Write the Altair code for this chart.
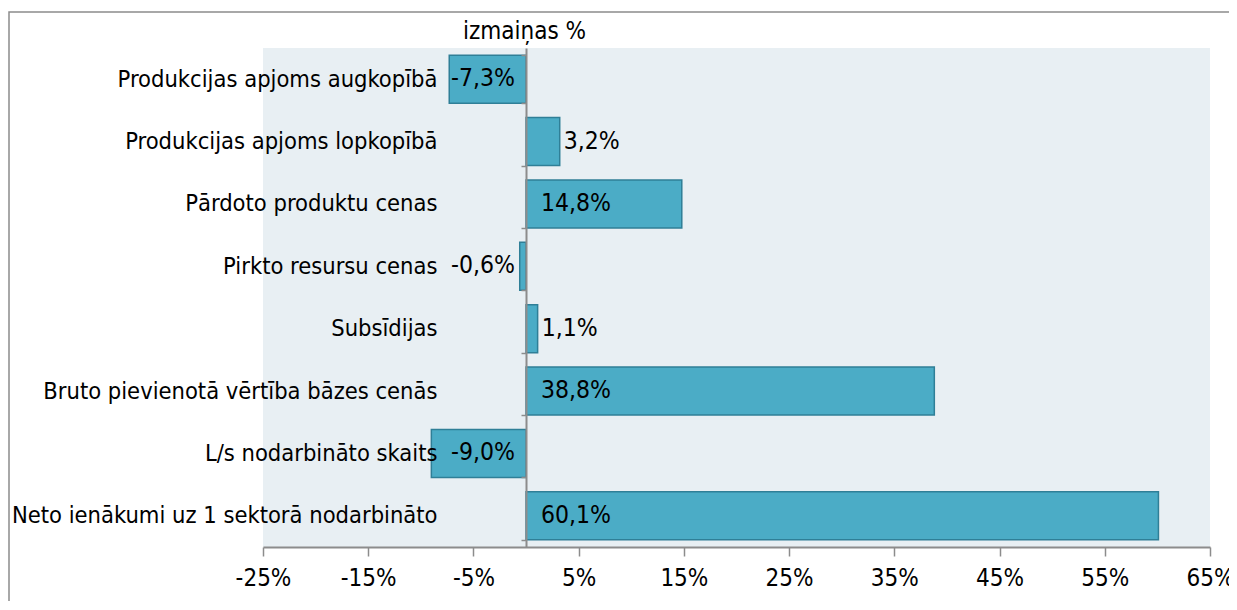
import altair as alt
import pandas as pd

categories = [
    "Produkcijas apjoms augkopībā",
    "Produkcijas apjoms lopkopībā",
    "Pārdoto produktu cenas",
    "Pirkto resursu cenas",
    "Subsīdijas",
    "Bruto pievienotā vērtība bāzes cenās",
    "L/s nodarbināto skaits",
    "Neto ienākumi uz 1 sektorā nodarbināto",
]
values = [-7.3, 3.2, 14.8, -0.6, 1.1, 38.8, -9.0, 60.1]
x_ticks = [-25, -15, -5, 5, 15, 25, 35, 45, 55, 65]
title_text = "izmaiņas %"

labels = [f"{v:.1f}".replace(".", ",") + "%" for v in values]
df = pd.DataFrame({"cat": categories, "v": values, "lab": labels})

FONT = "DejaVu Sans Condensed"
FS_CAT = 23.5
FS_NUM = 24.5
FS_AX = 24
GRAY = "#8c8c8c"

base = alt.Chart(df)

y_enc = alt.Y(
    "cat:N",
    sort=categories,
    scale=alt.Scale(paddingInner=0.23, paddingOuter=0.115),
    axis=alt.Axis(
        title=None,
        orient="left",
        offset=-263,
        tickBand="extent",
        tickSize=5,
        tickColor=GRAY,
        tickWidth=1.5,
        domainColor=GRAY,
        domainWidth=2,
        labelPadding=84,
        labelFont=FONT,
        labelFontSize=FS_CAT,
        labelColor="black",
        labelLimit=0,
        zindex=1,
    ),
)

x_scale = alt.Scale(domain=[-25, 65], nice=False, zero=False)

bars = base.mark_bar(fill="#4bacc6", stroke="#2f7f97", strokeWidth=1.5).encode(
    x=alt.X(
        "v:Q",
        scale=x_scale,
        axis=alt.Axis(
            title=None,
            values=x_ticks,
            labelExpr="datum.value + '%'",
            grid=False,
            domainColor=GRAY,
            domainWidth=2,
            tickColor=GRAY,
            tickWidth=1.5,
            tickSize=9,
            labelPadding=10,
            labelFont=FONT,
            labelFontSize=FS_AX,
            labelColor="black",
            labelFlush=False,
        ),
    ),
    x2=alt.datum(0),
    y=y_enc,
)

txt_neg = base.transform_filter("datum.v < 0").mark_text(
    align="right", baseline="middle", dx=-11, font=FONT, fontSize=FS_NUM, color="black"
).encode(x=alt.datum(0), y=alt.Y("cat:N", sort=categories), text="lab:N")

txt_pos_big = base.transform_filter("datum.v >= 5").mark_text(
    align="left", baseline="middle", dx=15, font=FONT, fontSize=FS_NUM, color="black"
).encode(x=alt.datum(0), y=alt.Y("cat:N", sort=categories), text="lab:N")

txt_pos_small = base.transform_filter("datum.v >= 0 && datum.v < 5").mark_text(
    align="left", baseline="middle", dx=4, font=FONT, fontSize=FS_NUM, color="black"
).encode(x="v:Q", y=alt.Y("cat:N", sort=categories), text="lab:N")

border = alt.Chart(pd.DataFrame({"a": [0]})).mark_rect(
    fillOpacity=0, stroke="#8c8c8c", strokeWidth=1.5
).encode(
    x=alt.value(-254), x2=alt.value(1300), y=alt.value(-36), y2=alt.value(700)
)

chart = alt.layer(border, bars, txt_neg, txt_pos_big, txt_pos_small).properties(
    width=947,
    height=499,
    background="white",
    title=alt.TitleParams(
        title_text, anchor="start", frame="group", dx=200, offset=-52,
        baseline="alphabetic",
        font=FONT, fontSize=24, fontWeight="normal", color="black",
    ),
    autosize=alt.AutoSizeParams(type="none"),
    padding={"left": 255, "top": 40, "right": 19, "bottom": 54},
).configure_view(fill="#e8eff3", strokeWidth=0)

chart.save("out.html", embed_options={"renderer": "svg", "actions": False})
